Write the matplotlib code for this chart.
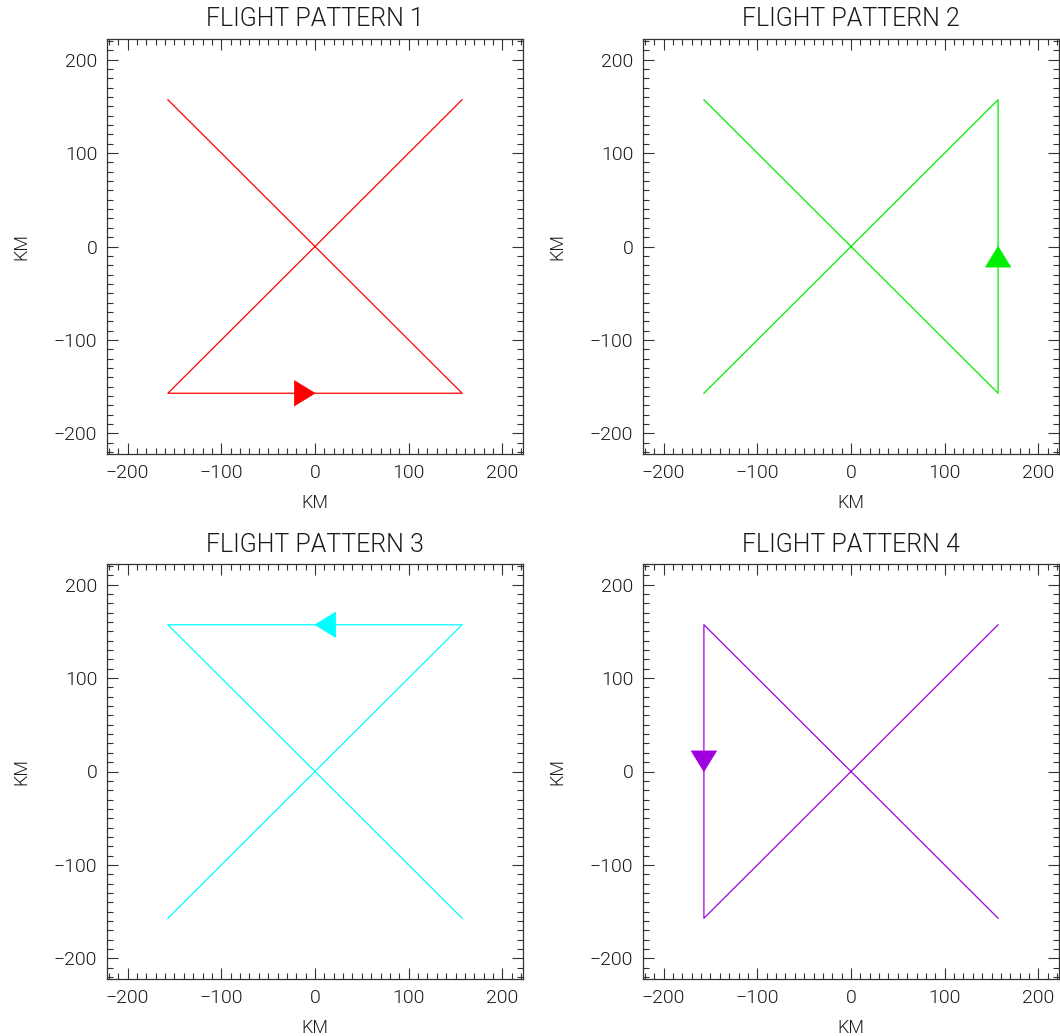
import matplotlib
matplotlib.use("Agg")
import matplotlib.pyplot as plt
from matplotlib.patches import Polygon
from matplotlib.ticker import MultipleLocator

plt.rcParams['font.family'] = ['Roboto', 'DejaVu Sans']
wt = 300

titles = ["FLIGHT PATTERN 1", "FLIGHT PATTERN 2", "FLIGHT PATTERN 3", "FLIGHT PATTERN 4"]
colors = ["#ff0000", "#00ee00", "#00ffff", "#a000e0"]
# flight paths (km)
path_x = [
    [157, -157, 157, -157],
    [-157, 157, 157, -157],
    [-157, 157, -157, 157],
    [157, -157, -157, 157],
]
path_y = [
    [157, -157, -157, 157],
    [157, -157, 157, -157],
    [-157, 157, 157, -157],
    [-157, 157, -157, 157],
]
# arrow tip position and direction (dx, dy)
arrow_tip = [(0, -157), (157, 0), (0, 157), (-157, 0)]
arrow_dir = [(1, 0), (0, 1), (-1, 0), (0, -1)]
ticks = [-200, -100, 0, 100, 200]
tick_labels = ["\u2212200", "\u2212100", "0", "100", "200"]
lim = 222

W, H = 1060, 1036
fig = plt.figure(figsize=(W / 100, H / 100), dpi=100)

boxes = [(107, 39), (643, 39), (107, 564), (643, 564)]
aw, ah = 416, 415

alen, ahalf = 22, 13.5
ink = '#333333'
txt = '#1a1a1a'

for i in range(4):
    l, t = boxes[i]
    ax = fig.add_axes([l / W, 1 - (t + ah) / H, aw / W, ah / H])
    ax.plot(path_x[i], path_y[i], color=colors[i], lw=0.9)
    tx, ty = arrow_tip[i]
    dx, dy = arrow_dir[i]
    px, py = -dy, dx
    pts = [(tx, ty),
           (tx - dx * alen + px * ahalf, ty - dy * alen + py * ahalf),
           (tx - dx * alen - px * ahalf, ty - dy * alen - py * ahalf)]
    ax.add_patch(Polygon(pts, closed=True, facecolor=colors[i], edgecolor=colors[i], lw=0.5))
    ax.set_xlim(-lim, lim)
    ax.set_ylim(-lim, lim)
    ax.set_xticks(ticks)
    ax.set_yticks(ticks)
    ax.set_xticklabels(tick_labels, fontweight=wt)
    ax.set_yticklabels(tick_labels, fontweight=wt)
    ax.xaxis.set_minor_locator(MultipleLocator(10))
    ax.yaxis.set_minor_locator(MultipleLocator(10))
    ax.tick_params(which='both', direction='in', top=True, right=True, colors=ink,
                   labelsize=14, labelcolor=txt, width=0.8)
    ax.tick_params(which='major', length=8, pad=7)
    ax.tick_params(which='minor', length=4)
    for s in ax.spines.values():
        s.set_color(ink)
        s.set_linewidth(0.9)
    ax.set_title(titles[i], fontsize=18, color=txt, pad=9, fontweight=wt)
    ax.set_xlabel("KM", fontsize=13, color=txt, labelpad=9, fontweight=wt)
    ax.set_ylabel("KM", fontsize=13, color=txt, labelpad=17, fontweight=wt)

fig.savefig("out.png", dpi=100)
